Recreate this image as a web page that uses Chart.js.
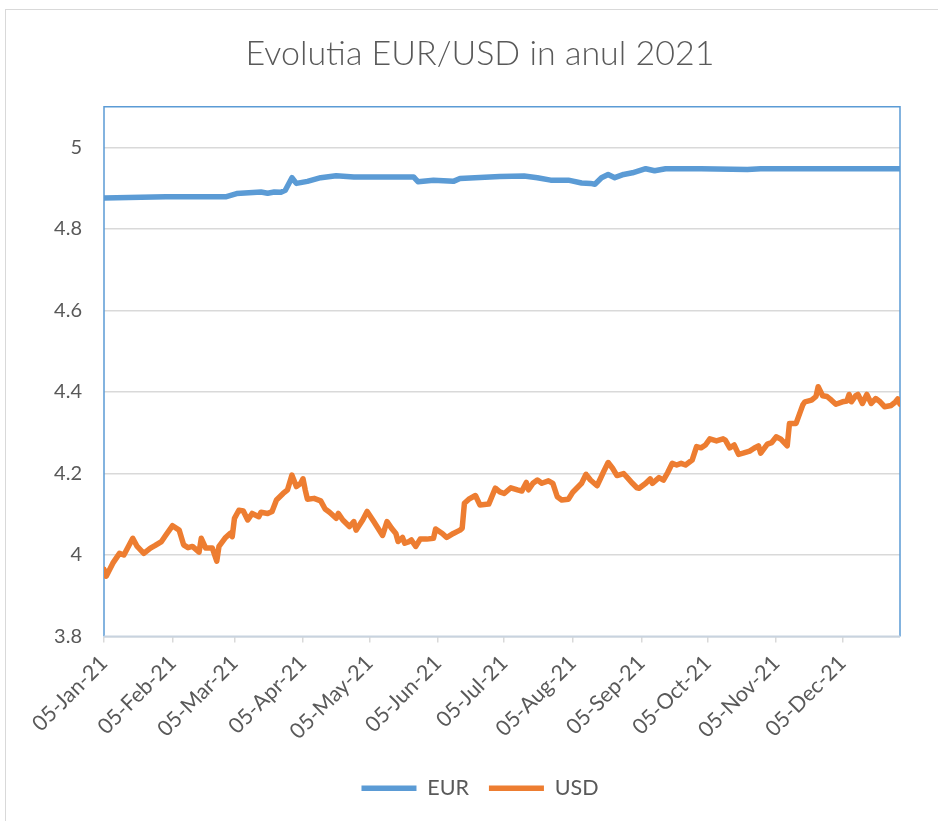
<!DOCTYPE html>
<html>
<head>
<meta charset="utf-8">
<script src="https://cdn.jsdelivr.net/npm/chart.js@4/dist/chart.umd.min.js"></script>
<style>
  html, body { margin: 0; padding: 0; background: #ffffff; }
  #wrap { position: absolute; left: 0; top: 0; width: 938px; height: 821px; }
  #frame { position: absolute; left: 5px; top: 9px; width: 940px; height: 830px;
           border-top: 1px solid #d9d9d9; border-left: 1px solid #d9d9d9; pointer-events: none; }
  canvas { position: absolute; left: 0; top: 0; }
</style>
</head>
<body>
<div id="wrap">
  <div id="frame"></div>
  <canvas id="c" width="938" height="821"></canvas>
</div>
<script>
// ---- data (x = days since 05-Jan-2021) ----
const titleText = "Evolutia EUR/USD in anul 2021";
const seriesNames = ["EUR", "USD"];

const xTickDays   = [0, 31, 59, 90, 120, 151, 181, 212, 243, 273, 304, 334];
const xTickLabels = ["05-Jan-21","05-Feb-21","05-Mar-21","05-Apr-21","05-May-21","05-Jun-21",
                     "05-Jul-21","05-Aug-21","05-Sep-21","05-Oct-21","05-Nov-21","05-Dec-21"];
const yTickValues = [3.8, 4.0, 4.2, 4.4, 4.6, 4.8, 5.0];

const eurDays   = [0, 28, 55, 60, 71, 74, 77, 80, 82, 85, 87, 92, 98, 105, 113, 134, 140, 142, 149, 158, 161,
                   179, 190, 196, 202, 210, 216, 220, 222, 225, 228, 231, 235, 239, 245, 249, 254, 270, 291, 297, 360];
const eurValues = [4.876, 4.879, 4.879, 4.887, 4.891, 4.888, 4.891, 4.890, 4.895, 4.926, 4.912, 4.917, 4.926, 4.931,
                   4.928, 4.928, 4.928, 4.916, 4.920, 4.917, 4.924, 4.929, 4.930, 4.926, 4.920, 4.920, 4.913, 4.912,
                   4.910, 4.926, 4.934, 4.926, 4.934, 4.938, 4.948, 4.943, 4.948, 4.948, 4.946, 4.948, 4.948];

const usdDays   = [0, 1, 4, 7, 9, 13, 15, 18, 21, 23, 26, 28, 31, 34, 36, 38, 40, 43, 44, 46, 49, 51, 52, 55, 57, 58,
                   59, 61, 63, 65, 67, 70, 71, 74, 76, 78, 81, 83, 85, 87, 89, 90, 91, 92, 95, 98, 100, 102, 105, 106,
                   108, 111, 113, 114, 117, 119, 122, 126, 128, 130, 132, 133, 135, 136, 138, 139, 141, 143, 146, 149,
                   150, 153, 155, 158, 161, 162, 163, 165, 168, 170, 174, 177, 179, 181, 184, 187, 189, 191, 192, 194,
                   196, 198, 201, 203, 205, 207, 210, 212, 216, 218, 220, 223, 226, 228, 230, 232, 235, 237, 239, 241,
                   242, 245, 247, 248, 251, 253, 255, 257, 259, 261, 263, 266, 268, 270, 272, 274, 277, 280, 281, 283,
                   285, 287, 289, 292, 294, 296, 297, 300, 302, 304, 306, 309, 310, 313, 316, 317, 320, 322, 323, 325,
                   327, 329, 331, 334, 336, 337, 338, 340, 341, 343, 345, 347, 349, 351, 353, 356, 358, 359, 360];
const usdValues = [3.965, 3.948, 3.980, 4.004, 4.000, 4.041, 4.021, 4.004, 4.017, 4.023, 4.033, 4.049, 4.072, 4.061,
                   4.025, 4.018, 4.021, 4.007, 4.041, 4.017, 4.017, 3.985, 4.021, 4.043, 4.053, 4.045,
                   4.090, 4.110, 4.108, 4.086, 4.102, 4.094, 4.105, 4.102, 4.107, 4.135, 4.151, 4.160, 4.196, 4.168,
                   4.176, 4.187, 4.160, 4.137, 4.139, 4.133, 4.113, 4.105, 4.090, 4.102,
                   4.086, 4.070, 4.082, 4.061, 4.086, 4.107, 4.082, 4.048, 4.082, 4.066, 4.053, 4.033, 4.043, 4.029,
                   4.033, 4.037, 4.021, 4.039, 4.039, 4.041,
                   4.064, 4.053, 4.043, 4.053, 4.061, 4.066, 4.127, 4.137, 4.146, 4.123, 4.125, 4.164, 4.155, 4.151,
                   4.165, 4.160, 4.157, 4.178, 4.160, 4.176,
                   4.184, 4.176, 4.182, 4.176, 4.143, 4.135, 4.137, 4.154, 4.176, 4.198, 4.184, 4.170, 4.205, 4.227,
                   4.213, 4.195, 4.200, 4.188, 4.176, 4.165,
                   4.164, 4.176, 4.187, 4.176, 4.190, 4.184, 4.203, 4.225, 4.221, 4.225, 4.221, 4.233, 4.266, 4.263,
                   4.270, 4.285, 4.280, 4.285, 4.282, 4.263,
                   4.270, 4.247, 4.250, 4.255, 4.262, 4.268, 4.250, 4.272, 4.276, 4.290, 4.285, 4.268, 4.323, 4.323,
                   4.368, 4.376, 4.380, 4.389, 4.413, 4.391,
                   4.389, 4.380, 4.370, 4.376, 4.378, 4.394, 4.376, 4.391, 4.394, 4.372, 4.394, 4.372, 4.384, 4.376,
                   4.364, 4.367, 4.376, 4.383, 4.370];

const xMin = 0, xMax = 360, yMin = 3.8, yMax = 5.1;

function pairs(xs, ys) { return xs.map((x, i) => ({ x: x, y: ys[i] })); }

const plotFrame = {
  id: 'plotFrame',
  beforeDatasetsDraw(chart) {
    const a = chart.chartArea, ctx = chart.ctx;
    ctx.save();
    ctx.lineWidth = 1.5;
    ctx.strokeStyle = '#5B9BD5';
    ctx.beginPath();
    ctx.moveTo(a.left, a.bottom); ctx.lineTo(a.left, a.top);
    ctx.lineTo(a.right, a.top); ctx.lineTo(a.right, a.bottom);
    ctx.stroke();
    ctx.lineWidth = 2;
    ctx.strokeStyle = '#c8d3df';
    ctx.beginPath();
    ctx.moveTo(a.left, a.bottom); ctx.lineTo(a.right, a.bottom);
    ctx.stroke();
    ctx.restore();
  }
};

const FONT = "Lato, 'Open Sans', sans-serif";
const TXT = '#595959';

new Chart(document.getElementById('c'), {
  type: 'line',
  data: {
    datasets: [
      { label: seriesNames[0], data: pairs(eurDays, eurValues), borderColor: '#5B9BD5', backgroundColor: '#5B9BD5',
        borderWidth: 5.5, pointRadius: 0, tension: 0, borderCapStyle: 'round', borderJoinStyle: 'round' },
      { label: seriesNames[1], data: pairs(usdDays, usdValues), borderColor: '#ED7D31', backgroundColor: '#ED7D31',
        borderWidth: 5.5, pointRadius: 0, tension: 0, borderCapStyle: 'round', borderJoinStyle: 'round' }
    ]
  },
  options: {
    responsive: false,
    animation: false,
    layout: { padding: { left: 22, right: 0, top: 0, bottom: 12 } },
    plugins: {
      title: { display: true, text: titleText, color: TXT,
               font: { family: FONT, size: 34, weight: 300 }, padding: { top: 34, bottom: 32 } },
      legend: { display: true, position: 'bottom',
        labels: { usePointStyle: true, pointStyle: 'line', pointStyleWidth: 55, color: TXT,
                  font: { family: FONT, size: 21.5 }, padding: 20 } },
      tooltip: { enabled: false }
    },
    scales: {
      x: {
        type: 'linear', min: xMin, max: xMax,
        afterBuildTicks(scale) { scale.ticks = xTickDays.map(v => ({ value: v })); },
        afterFit(scale) { scale.height = 121; },
        grid: { display: true, drawOnChartArea: false, drawTicks: true, tickLength: 6, color: '#d9d9d9', lineWidth: 1.5 },
        border: { display: false },
        ticks: { autoSkip: false, minRotation: 45, maxRotation: 45, color: TXT, padding: 8,
                 font: { family: FONT, size: 21.5 },
                 callback(value, index) { return xTickLabels[xTickDays.indexOf(value)]; } }
      },
      y: {
        type: 'linear', min: yMin, max: yMax,
        afterBuildTicks(scale) { scale.ticks = yTickValues.map(v => ({ value: v })); },
        afterFit(scale) { scale.width = 82; },
        grid: { color: '#d9d9d9', lineWidth: 1.5, drawTicks: false },
        border: { display: false },
        ticks: { color: TXT, padding: 22, font: { family: FONT, size: 20 },
                 callback(value) { return String(Number(value.toFixed(1))); } }
      },
      yRight: {
        type: 'linear', position: 'right', min: yMin, max: yMax,
        afterFit(scale) { scale.width = 38; },
        grid: { display: false, drawTicks: false },
        border: { display: false },
        ticks: { display: false }
      }
    }
  },
  plugins: [plotFrame]
});
</script>
</body>
</html>
